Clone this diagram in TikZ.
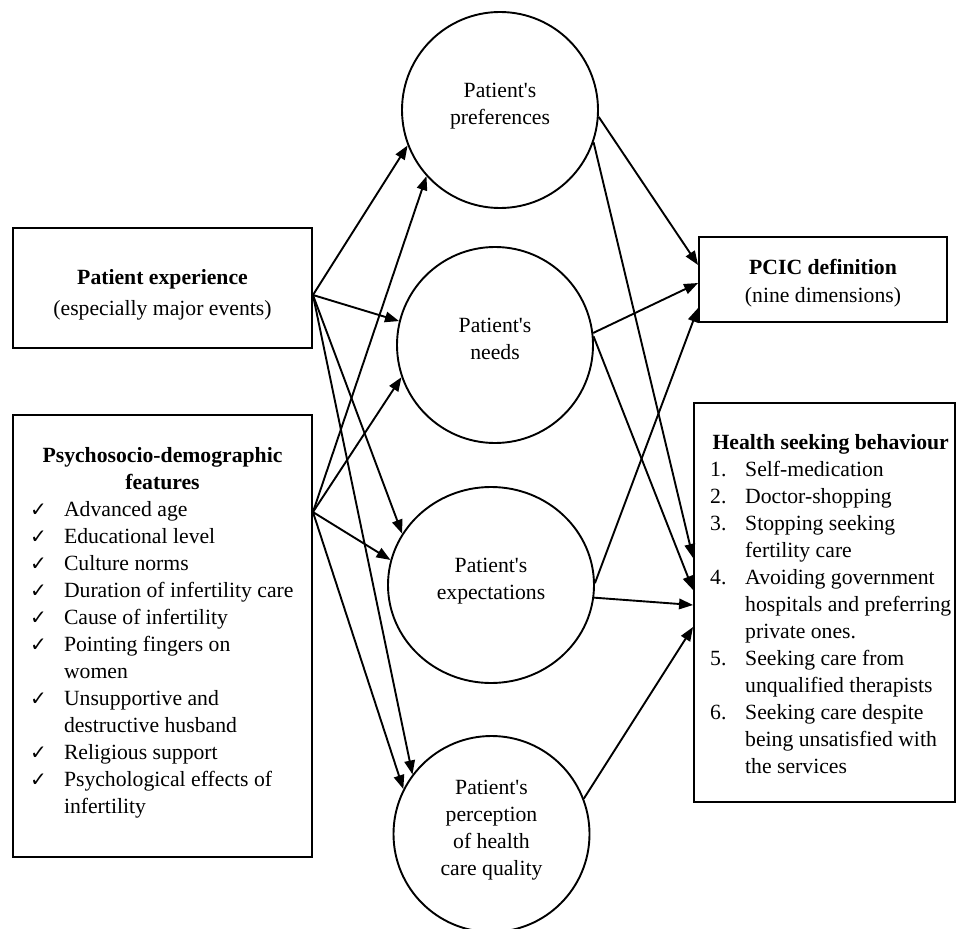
\documentclass[tikz,border=0pt]{standalone}
\usepackage{fontspec}
\setmainfont{Liberation Serif}
\newfontfamily\mainf{Liberation Serif}
\newfontfamily\symf{DejaVu Sans}
\usetikzlibrary{arrows.meta,shapes.geometric}
\newcommand{\chk}{{\symf\fontsize{20}{27}\selectfont ✓}}
\begin{document}
\begin{tikzpicture}[x=1pt,y=-1pt,
  every node/.style={font=\mainf\fontsize{21.7}{27}\selectfont},
  rbox/.style={draw, line width=1.9pt, rectangle, inner sep=0pt, align=center},
  circ/.style={draw, line width=1.9pt, circle, inner sep=0pt, minimum size=196pt},
  oval/.style={draw, line width=1.9pt, ellipse, inner sep=0pt, minimum width=206pt, minimum height=196pt},
  link/.style={line width=1.9pt, -{Triangle[length=14pt,width=10.5pt]}},
  plaintext/.style={align=center, inner sep=0pt}
]
\useasboundingbox (0,0) rectangle (957,928);

% boxes
\node (exp) [rbox, minimum width=299pt, minimum height=120pt] at (162.5,288) {};
\node (psy) [rbox, minimum width=299pt, minimum height=442pt] at (162.5,636) {};
\node (pcic) [rbox, minimum width=248pt, minimum height=85pt] at (823,279.5) {};
\node (hsb) [rbox, minimum width=261pt, minimum height=399pt] at (824.5,602.5) {};

% box texts
\node (expt) [plaintext] at ([yshift=-7pt]exp.center)
  {\textbf{Patient experience}\\[4pt](especially major events)};
\node (pcict) [plaintext] at ([yshift=-4pt]pcic.center)
  {\textbf{PCIC definition}\\[1pt](nine dimensions)};

\node (psytxt) [anchor=base, inner sep=0pt] at (162.5,462) {%
\begin{minipage}[t]{265pt}
\centering\textbf{Psychosocio-demographic\\features}\par
\raggedright
\begin{tabular}[t]{@{}l@{}l@{}}
\makebox[34pt][l]{\chk}&Advanced age\\
\makebox[34pt][l]{\chk}&Educational level\\
\makebox[34pt][l]{\chk}&Culture norms\\
\makebox[34pt][l]{\chk}&Duration of infertility care\\
\makebox[34pt][l]{\chk}&Cause of infertility\\
\makebox[34pt][l]{\chk}&Pointing fingers on\\
&women\\
\makebox[34pt][l]{\chk}&Unsupportive and\\
&destructive husband\\
\makebox[34pt][l]{\chk}&Religious support\\
\makebox[34pt][l]{\chk}&Psychological effects of\\
&infertility
\end{tabular}
\end{minipage}};

\node (hsbtxt) [anchor=base west, inner sep=0pt] at (710,449) {%
\begin{minipage}[t]{241pt}
\makebox[241pt][c]{\textbf{Health seeking behaviour}}\par
\begin{tabular}[t]{@{}l@{}l@{}}
\makebox[35pt][l]{1.}&Self-medication\\
\makebox[35pt][l]{2.}&Doctor-shopping\\
\makebox[35pt][l]{3.}&Stopping seeking\\
&fertility care\\
\makebox[35pt][l]{4.}&Avoiding government\\
&hospitals and preferring\\
&private ones.\\
\makebox[35pt][l]{5.}&Seeking care from\\
&unqualified therapists\\
\makebox[35pt][l]{6.}&Seeking care despite\\
&being unsatisfied with\\
&the services
\end{tabular}
\end{minipage}};

% circles
\node (pref) [circ] at (500,110) {};
\node (needs) [circ] at (495,345) {};
\node (expect) [oval] at (491,585) {};
\node (perc) [circ] at (491.5,834) {};

\node (preft) [plaintext] at ([yshift=4pt]pref.center) {Patient's\\preferences};
\node (needst) [plaintext] at ([yshift=6.5pt]needs.center) {Patient's\\needs};
\node (expectt) [plaintext] at ([yshift=3.5pt]expect.center) {Patient's\\expectations};
\node (perct) [plaintext] at ([yshift=4pt]perc.center) {Patient's\\perception\\of health\\care quality};

% connectors
\draw[link] ([yshift=-7pt]exp.east) -- (pref.201.8);
\draw[link] ([yshift=-7pt]exp.east) -- (needs.166.5);
\draw[link] ([yshift=-7pt]exp.east) -- (expect.150.3);
\draw[link] ([yshift=-7pt]exp.east) -- (perc.143.8);
\draw[link] ([yshift=-98pt]psy.north east) -- (pref.222.3);
\draw[link] ([yshift=-98pt]psy.north east) -- (needs.199);
\draw[link] ([yshift=-98pt]psy.north east) -- (expect.166.5);
\draw[link] ([yshift=-98pt]psy.north east) -- (perc.153.6);
\draw[link] (pref.-4.7) -- ([yshift=14.5pt]pcic.west);
\draw[link] (pref.-19.7) -- ([yshift=44.5pt]hsb.west);
\draw[link] (needs.7.3) -- ([yshift=-3.5pt]pcic.west);
\draw[link] (needs.5.8) -- ([yshift=12.5pt]hsb.west);
\draw[link] (expect.1) -- ([yshift=-28.5pt]pcic.west);
\draw[link] (expect.-7.3) -- ([yshift=-2.5pt]hsb.west);
\draw[link] (perc.21) -- ([yshift=-24.5pt]hsb.west);
\end{tikzpicture}
\end{document}
